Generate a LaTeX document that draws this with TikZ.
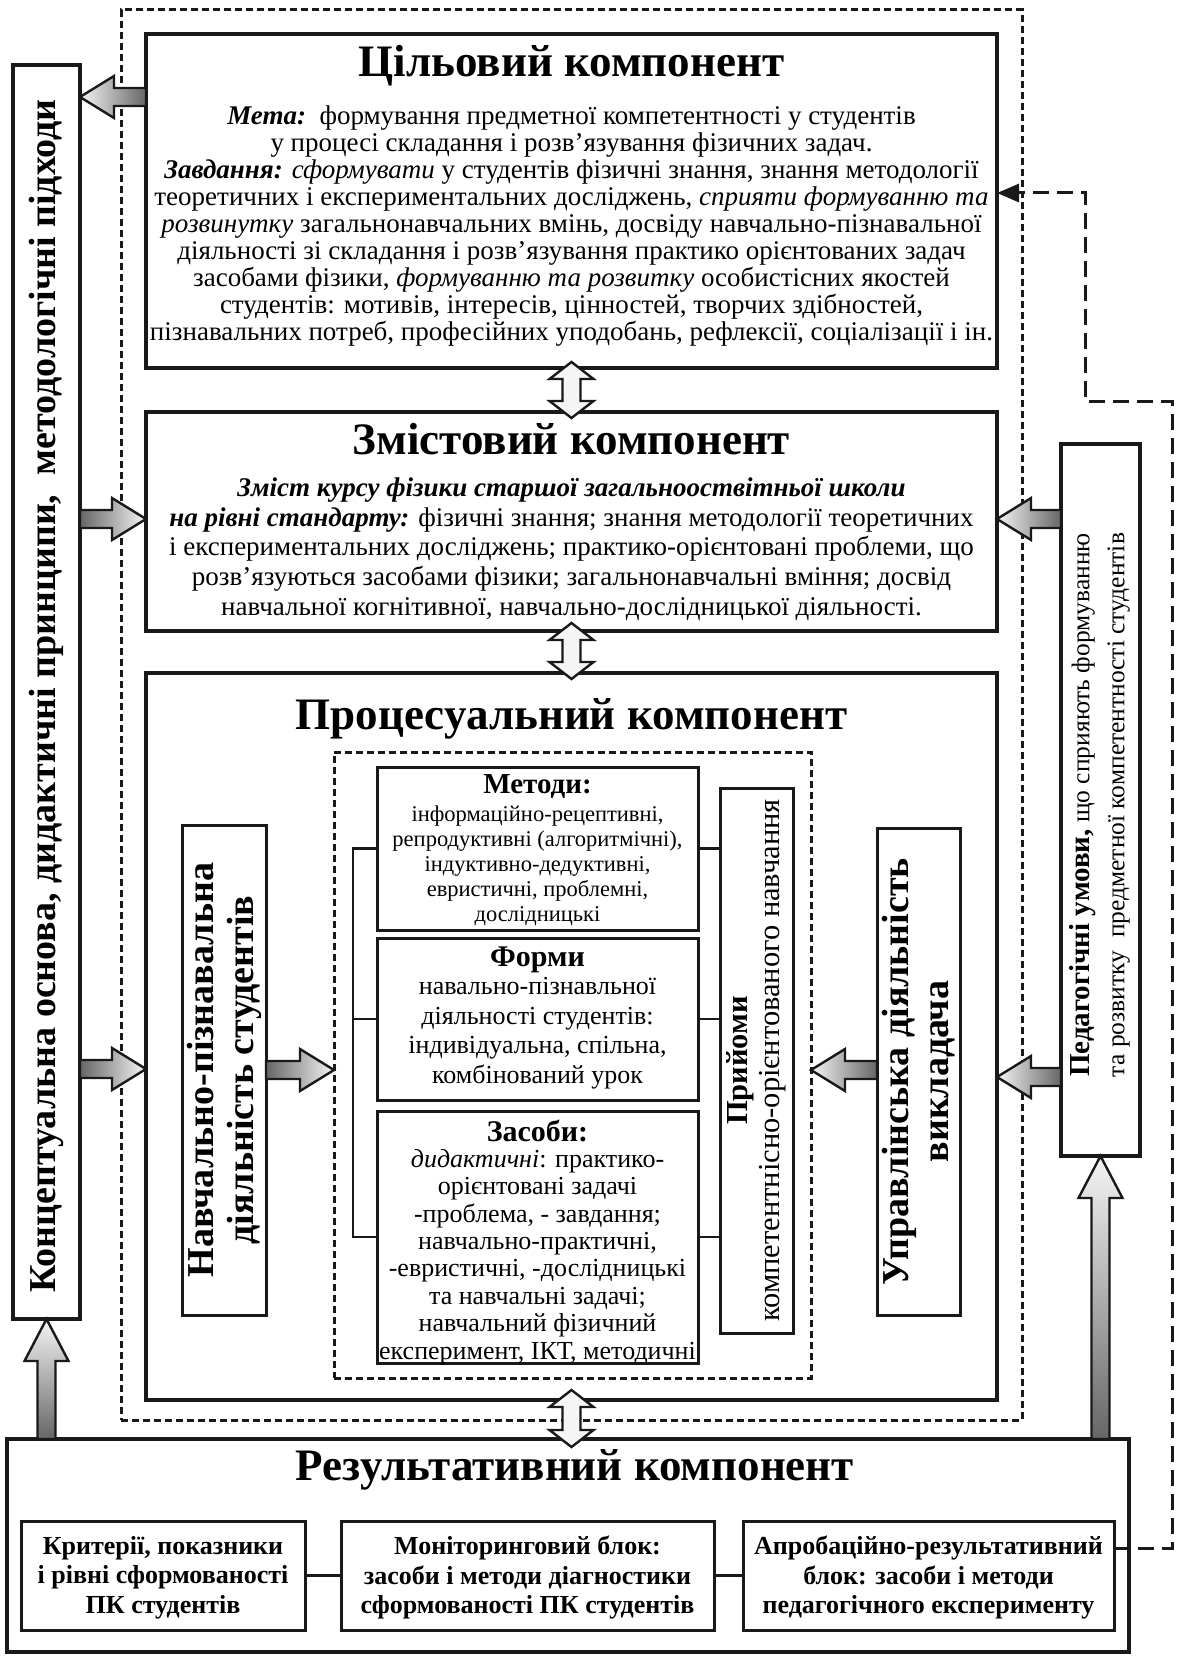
\documentclass[tikz,border=0pt]{standalone}
\usepackage{fontspec}
\setmainfont{Liberation Serif}
\usetikzlibrary{calc,arrows.meta}
\definecolor{dk}{gray}{0.40}
\definecolor{lt}{gray}{0.96}
\tikzset{
  box/.style={draw=black!90, line width=4.3pt, inner sep=0pt, outer sep=0pt},
  sbox/.style={draw=black!90, line width=3pt, inner sep=0pt, outer sep=0pt},
  dbox/.style={draw=black!90, line width=3pt, dash pattern=on 7pt off 4pt, inner sep=0pt, outer sep=0pt},
  blk/.style={draw=black!90, line width=2.4pt, line join=miter},
  link/.style={draw=black!90, line width=2.6pt},
  fbline/.style={draw=black!90, line width=3pt, dash pattern=on 16pt off 8pt},
  ttl/.style={inner sep=0pt, anchor=base, font=\fontsize{45}{50}\selectfont\bfseries},
  body/.style={inner sep=0pt, align=center},
  vtxt/.style={inner sep=0pt, align=center, rotate=90},
}
% horizontal arrow pointing right: tail, tip
\newcommand\arrR[2]{\path[blk,left color=dk,right color=lt] let \p1=(#1), \p2=(#2) in
  (\x1,\y2+9pt) -- (\x2-34pt,\y2+9pt) -- (\x2-34pt,\y2+21pt) -- (\x2,\y2) --
  (\x2-34pt,\y2-21pt) -- (\x2-34pt,\y2-9pt) -- (\x1,\y2-9pt) -- cycle;}
% horizontal arrow pointing left: tail, tip
\newcommand\arrL[2]{\path[blk,left color=lt,right color=dk] let \p1=(#1), \p2=(#2) in
  (\x1,\y2+9pt) -- (\x2+34pt,\y2+9pt) -- (\x2+34pt,\y2+21pt) -- (\x2,\y2) --
  (\x2+34pt,\y2-21pt) -- (\x2+34pt,\y2-9pt) -- (\x1,\y2-9pt) -- cycle;}
% vertical arrow pointing up: tail (bottom), tip (top)
\newcommand\arrU[2]{\path[blk,top color=lt,bottom color=dk] let \p1=(#1), \p2=(#2) in
  (\x2-9pt,\y1) -- (\x2-9pt,\y2-42pt) -- (\x2-22pt,\y2-42pt) -- (\x2,\y2) --
  (\x2+22pt,\y2-42pt) -- (\x2+9pt,\y2-42pt) -- (\x2+9pt,\y1) -- cycle;}
% vertical double arrow: top tip, bottom tip
\newcommand\arrUD[2]{\path[blk,top color=lt,middle color=dk,bottom color=lt] let \p1=(#1), \p2=(#2) in
  (\x1,\y1) -- (\x1+22pt,\y1-17pt) -- (\x1+9pt,\y1-17pt) -- (\x1+9pt,\y2+17pt) --
  (\x1+22pt,\y2+17pt) -- (\x1,\y2) -- (\x1-22pt,\y2+17pt) -- (\x1-9pt,\y2+17pt) --
  (\x1-9pt,\y1-17pt) -- (\x1-22pt,\y1-17pt) -- cycle;}

\begin{document}
\begin{tikzpicture}[x=1pt,y=-1pt]
\useasboundingbox (0,0) rectangle (1182,1656);
\fill[white] (0,0) rectangle (1182,1656);

% ---------- frames ----------
\node[dbox, minimum width=901pt, minimum height=1410pt] (outer) at (571.5,715) {};
\node[box, minimum width=67pt, minimum height=1254pt] (left) at (46.5,692) {};
\node[box, minimum width=851pt, minimum height=334pt] (goal) at (571.5,201) {};
\node[box, minimum width=851pt, minimum height=219pt] (content) at (571.5,521.5) {};
\node[box, minimum width=851pt, minimum height=727pt] (process) at (571.5,1036.5) {};
\node[box, minimum width=1122pt, minimum height=213pt] (result) at (568,1545.5) {};
\node[box, minimum width=79pt, minimum height=712pt] (ped) at (1100.5,800) {};
\node[dbox, minimum width=477pt, minimum height=626pt] (inner) at (572.5,1065) {};
\node[sbox, minimum width=321pt, minimum height=163pt] (methods) at (537.5,848.5) {};
\node[sbox, minimum width=321pt, minimum height=162pt] (forms) at (537.5,1019) {};
\node[sbox, minimum width=321pt, minimum height=252pt] (means) at (537.5,1237) {};
\node[sbox, minimum width=73pt, minimum height=545pt] (prij) at (756.5,1060.5) {};
\node[sbox, minimum width=84pt, minimum height=490pt] (navch) at (224,1070) {};
\node[sbox, minimum width=83pt, minimum height=487pt] (upr) at (918.5,1071.5) {};
\node[sbox, minimum width=284pt, minimum height=109pt] (r1) at (163,1575.5) {};
\node[sbox, minimum width=373pt, minimum height=109pt] (r2) at (527.5,1575.5) {};
\node[sbox, minimum width=371pt, minimum height=109pt] (r3) at (928.5,1575.5) {};

% ---------- goal ----------
\node[ttl] (goalT) at (571.5,77) {Цільовий компонент};
\node[body, font=\fontsize{27}{26.9}\selectfont] (goalB) at (571.5,226) {%
\textbf{\textit{Мета:}}\ \ формування предметної компетентності у студентів\\
у процесі складання і розв’язування фізичних задач.\\
\textbf{\textit{Завдання:}} \textit{сформувати} у студентів фізичні знання, знання методології\\
теоретичних і експериментальних досліджень, \textit{сприяти формуванню та}\\
\textit{розвинутку} загальнонавчальних вмінь, досвіду навчально-пізнавальної\\
діяльності зі складання і розв’язування практико орієнтованих задач\\
засобами фізики, \textit{формуванню та розвитку} особистісних якостей\\
студентів: мотивів, інтересів, цінностей, творчих здібностей,\\
пізнавальних потреб, професійних уподобань, рефлексії, соціалізації і ін.};

% ---------- content ----------
\node[ttl] (contT) at (571.5,454) {Змістовий компонент};
\node[body, font=\fontsize{27}{29.7}\selectfont] (contB) at (571.5,549) {%
\textbf{\textit{Зміст курсу фізики старшої загальнооствітньої школи}}\\
\textbf{\textit{на рівні стандарту:}} фізичні знання; знання методології теоретичних\\
і експериментальних досліджень; практико-орієнтовані проблеми, що\\
розв’язуються засобами фізики; загальнонавчальні вміння; досвід\\
навчальної когнітивної, навчально-дослідницької діяльності.};

% ---------- process ----------
\node[ttl] (procT) at (571.5,729) {Процесуальний компонент};

\node[inner sep=0pt, anchor=base, font=\fontsize{29}{32}\selectfont\bfseries] (methT) at (537.5,793) {Методи:};
\node[body, font=\fontsize{22.5}{25}\selectfont] (methB) at (537.5,866) {%
інформаційно-рецептивні,\\
репродуктивні (алгоритмічні),\\
індуктивно-дедуктивні,\\
евристичні, проблемні,\\
дослідницькі};

\node[inner sep=0pt, anchor=base, font=\fontsize{30}{32}\selectfont\bfseries] (formT) at (537.5,966) {Форми};
\node[body, font=\fontsize{26}{29.6}\selectfont] (formB) at (537.5,1033) {%
навально-пізнавльної\\
діяльності студентів:\\
індивідуальна, спільна,\\
комбінований урок};

\node[inner sep=0pt, anchor=base, font=\fontsize{30}{32}\selectfont\bfseries] (meanT) at (537.5,1141) {Засоби:};
\node[body, font=\fontsize{26}{27.4}\selectfont] (meanB) at (537.5,1257) {%
\textit{дидактичні}: практико-\\
орієнтовані задачі\\
-проблема, - завдання;\\
навчально-практичні,\\
-евристичні, -дослідницькі\\
та навчальні задачі;\\
навчальний фізичний\\
експеримент, ІКТ, методичні};

\node[vtxt, font=\fontsize{30.5}{32}\selectfont] (prijT) at (prij.center) {\textbf{Прийоми}\\компетентнісно-орієнтованого навчання};
\node[vtxt, font=\fontsize{38}{40}\selectfont\bfseries] (navchT) at (navch.center) {Навчально-пізнавальна\\діяльність студентів};
\node[vtxt, font=\fontsize{38}{40}\selectfont\bfseries] (uprT) at (upr.center) {Управлінська діяльність\\викладача};

% ---------- side boxes ----------
\node[vtxt, font=\fontsize{38}{40}\selectfont\bfseries] (leftT) at (46.5,696) {Концептуальна основа, дидактичні принципи,\ \ методологічні підходи};
\node[vtxt, font=\fontsize{25.5}{35}\selectfont] (pedT) at (1099.5,805) {{\fontsize{29}{35}\selectfont\bfseries Педагогічні умови,} що сприяють формуванню\\та розвитку\ \ предметної компетентності студентів};

% ---------- result ----------
\node[ttl] (resT) at (575,1480) {Результативний компонент};
\node[body, font=\fontsize{26}{29.5}\selectfont\bfseries] (r1T) at (163,1577.5) {Критерії, показники\\і рівні сформованості\\ПК студентів};
\node[body, font=\fontsize{26}{29.5}\selectfont\bfseries] (r2T) at (527.5,1577.5) {Моніторинговий блок:\\засоби і методи діагностики\\сформованості ПК студентів};
\node[body, font=\fontsize{26}{29.5}\selectfont\bfseries] (r3T) at (928.5,1577.5) {Апробаційно-результативний\\блок: засоби і методи\\педагогічного експерименту};

% ---------- plain links ----------
\draw[link] (methods.west) -- ++(-24,0) |- (means.west);
\draw[link] (forms.west) -- ++(-24,0);
\draw[link] (methods.east) -- (methods.east -| prij.west);
\draw[link] (forms.east) -- (forms.east -| prij.west);
\draw[link] (means.east) -- (means.east -| prij.west);
\draw[link] (r1.east) -- (r2.west);
\draw[link] (r2.east) -- (r3.west);

% ---------- feedback dashed line ----------
\coordinate (fbs) at ($(r3.north east)!0.25!(r3.south east)$);
\coordinate (fb1) at (1172,401);
\coordinate (fb2) at (1085,193);
\draw[fbline, -{Triangle[length=22pt,width=18pt]}] (fbs) -| (fb1) -| (fb2) -- (goal.east |- fb2);

% ---------- block arrows ----------
\coordinate (yG) at (0,97);
\coordinate (yC) at (0,519);
\coordinate (yP) at (0,1069);
\coordinate (yQ) at (0,1077);
\coordinate (yI) at (0,1070);
\arrL{goal.west |- yG}{left.east |- yG}
\arrR{left.east |- yC}{content.west |- yC}
\arrR{left.east |- yP}{process.west |- yP}
\arrL{ped.west |- yC}{content.east |- yC}
\arrL{ped.west |- yQ}{process.east |- yQ}
\arrR{navch.east |- yI}{inner.west |- yI}
\arrL{upr.west |- yI}{inner.east |- yI}
\arrU{left.south |- result.north}{left.south}
\arrU{ped.south |- result.north}{ped.south}
\arrUD{$(goal.south)+(0,-6)$}{$(content.north)+(0,6)$}
\arrUD{$(content.south)+(0,-8)$}{$(process.north)+(0,6)$}
\arrUD{$(process.south)+(0,-10)$}{$(result.north)+(0,8)$}
\end{tikzpicture}
\end{document}
